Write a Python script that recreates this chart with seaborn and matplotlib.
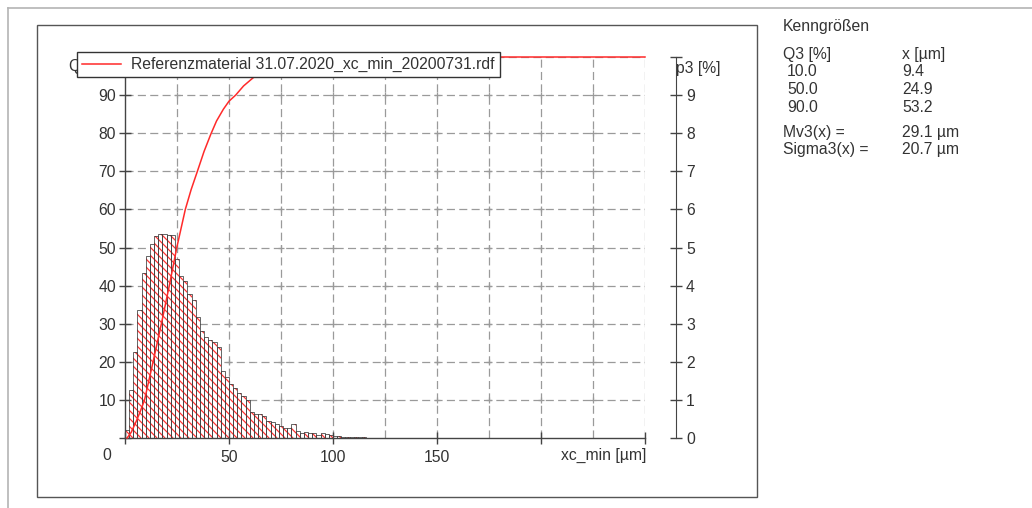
import numpy as np
import pandas as pd
import matplotlib
matplotlib.use("Agg")
import matplotlib.pyplot as plt
from matplotlib.lines import Line2D
from matplotlib.patches import Rectangle
from matplotlib.collections import LineCollection
from matplotlib.path import Path
import seaborn as sns

# ---- data -----------------------------------------------------------------
# density distribution p3 [%] per size class (class width 2 µm, starting at 0 µm)
class_width = 2.0
p3 = [0.22, 1.25, 2.27, 3.36, 4.32, 4.78, 5.10, 5.31, 5.36, 5.36,
      5.34, 5.32, 4.71, 4.24, 4.11, 3.78, 3.63, 3.17, 2.80, 2.65,
      2.58, 2.52, 2.40, 1.75, 1.60, 1.42, 1.32, 1.19, 1.10, 1.00,
      0.68, 0.62, 0.64, 0.57, 0.45, 0.42, 0.36, 0.31, 0.27, 0.27,
      0.36, 0.18, 0.13, 0.15, 0.13, 0.13, 0.08, 0.13, 0.11, 0.08,
      0.04, 0.04, 0.03, 0.03, 0.03, 0.02, 0.03, 0.02, 0.01, 0.01,
      0.01, 0.005, 0.005, 0.005, 0.005, 0.005]

# cumulative distribution Q3 [%] over xc_min [µm]
q3_x = [1.0, 3.0, 5.5, 7.5, 9.4, 13.5, 17.5, 21.3, 24.9, 29.0, 31.8, 34.8,
        38.0, 41.3, 44.0, 47.3, 50.0, 53.2, 57.0, 61.5, 65.0, 70.0, 75.0,
        80.0, 88.0, 95.0, 105.0, 120.0, 250.0]
q3_y = [0.0, 1.5, 4.5, 7.2, 10.0, 20.0, 30.0, 40.0, 50.0, 60.0, 65.2, 70.0,
        75.2, 79.8, 83.2, 86.3, 88.4, 90.0, 92.4, 94.5, 95.8, 97.3, 98.3,
        98.9, 99.45, 99.7, 99.9, 100.0, 100.0]

series_label = "Referenzmaterial 31.07.2020_xc_min_20200731.rdf"

# characteristic values table
stat_title = "Kenngrößen"
q3_levels = ["10.0", "50.0", "90.0"]
x_levels = ["9.4", "24.9", "53.2"]
mv3 = "29.1 µm"
sigma3 = "20.7 µm"

x_ticks = [0, 50, 100, 150, 200, 250]
x_ticklabels = ["", "50", "100", "150", "", ""]
q_ticks = list(range(0, 101, 10))
p_ticks = list(range(0, 11))

# ---- style ----------------------------------------------------------------
plt.rcParams["font.family"] = ["Liberation Sans", "DejaVu Sans"]
plt.rcParams["font.size"] = 11.3
plt.rcParams["lines.scale_dashes"] = False

TXT = "#333333"
AX = "#444444"
GRID = "#9a9a9a"
RED = "#ff2a2a"
HATCH = "#ff3434"
OUTLINE = "#3c3c3c"
FS = 11.3

W, H = 1032, 508
fig = plt.figure(figsize=(W / 100, H / 100), dpi=100)


def fx(px):
    return px / W


def fy(py):
    return 1 - py / H


AX_W, AX_H = 520, 381
ax = fig.add_axes([fx(125), fy(438), AX_W / W, AX_H / H])
ax2 = ax.twinx()
ax.set_zorder(2)
ax2.set_zorder(1)
ax.patch.set_visible(False)
ax2.patch.set_visible(False)

edges = [i * class_width for i in range(len(p3) + 1)]
centers = [(a + b) / 2 for a, b in zip(edges[:-1], edges[1:])]
hist_df = pd.DataFrame({"x": centers, "p3": p3})

# white bar bodies
n0 = len(ax2.patches)
sns.histplot(data=hist_df, x="x", weights="p3", bins=edges, ax=ax2,
             color="white", alpha=1, linewidth=0, zorder=2)
fill_bars = ax2.patches[n0:]
for patch in fill_bars:
    patch.set_facecolor("white")
    patch.set_edgecolor("none")

# red diagonal hatching, clipped to the bar outlines
bar_paths = [p.get_path().transformed(p.get_patch_transform()) for p in fill_bars]
bar_region = Path.make_compound_path(*bar_paths)
step = 8.0 / AX_W
drop = AX_H / AX_W
starts = np.arange(-drop, 1.0, step)
segments = [[(u, 1.0), (u + drop, 0.0)] for u in starts]
hatch = LineCollection(segments, colors=HATCH, linewidths=0.9,
                       transform=ax2.transAxes, zorder=2.5)
ax2.add_collection(hatch, autolim=False)
hatch.set_clip_path(bar_region, ax2.transData)

# bar outlines
sns.histplot(data=hist_df, x="x", weights="p3", bins=edges, ax=ax2,
             fill=False, color=OUTLINE, linewidth=0.55, zorder=3)

# grid (drawn behind the bars)
dash = (0, (5.8, 3.1))
for gx in range(25, 251, 25):
    ax2.axvline(gx, color=GRID, lw=0.9, ls=dash, zorder=0.5)
for gy in range(1, 11):
    ax2.axhline(gy, color=GRID, lw=0.9, ls=dash, zorder=0.5)
cx, cy = np.meshgrid(np.arange(25, 250, 25), np.arange(1, 10))
ax2.plot(cx.ravel(), cy.ravel(), ls="none", marker="+", ms=5, mew=0.9,
         color=GRID, zorder=0.6)

# cumulative curve
sns.lineplot(x=q3_x, y=q3_y, ax=ax, color=RED, lw=1.1, label=series_label,
             clip_on=False, zorder=4)

ax.set_xlim(0, 250)
ax.set_ylim(0, 100)
ax2.set_ylim(0, 10)
ax.set_xlabel("")
ax.set_ylabel("")
ax2.set_xlabel("")
ax2.set_ylabel("")

# left axis / bottom axis
for s in ["top", "right"]:
    ax.spines[s].set_visible(False)
for s in ["left", "bottom"]:
    ax.spines[s].set_color(AX)
    ax.spines[s].set_linewidth(1.0)
ax.set_yticks(q_ticks)
ax.set_yticklabels([str(t) if 0 < t < 100 else "" for t in q_ticks])
ax.set_xticks(x_ticks)
ax.set_xticklabels(x_ticklabels)
ax.tick_params(axis="y", direction="inout", length=8, width=1, color=AX,
               labelcolor=TXT, labelsize=FS, pad=2.5)
ax.tick_params(axis="x", direction="inout", length=8, width=1, color=AX,
               labelcolor=TXT, labelsize=FS, pad=4.5)

# right axis p3
for s in ["top", "left", "bottom"]:
    ax2.spines[s].set_visible(False)
ax2.spines["right"].set_position(("outward", 22))
ax2.spines["right"].set_bounds(0, 10)
ax2.spines["right"].set_color(AX)
ax2.set_yticks(p_ticks)
ax2.set_yticklabels([str(t) if t < 10 else "" for t in p_ticks])
ax2.tick_params(axis="y", direction="inout", length=8, width=1, color=AX,
                labelcolor=TXT, labelsize=FS, pad=3.5)

# axis captions
ax.text(fx(69), fy(66), "Q3 [%]", transform=fig.transFigure, ha="left",
        va="center", color=TXT, fontsize=FS, clip_on=False, zorder=3)
fig.text(fx(676), fy(68), "p3 [%]", ha="left", va="center", color=TXT,
         fontsize=FS)
fig.text(fx(107), fy(455), "0", ha="center", va="center", color=TXT,
         fontsize=FS)
fig.text(fx(646), fy(455), "xc_min [µm]", ha="right", va="center", color=TXT,
         fontsize=FS)

leg = ax.legend(loc="upper left", bbox_to_anchor=(fx(77), fy(52)),
                bbox_transform=fig.transFigure, frameon=True, fancybox=False,
                framealpha=1, edgecolor="#333333", fontsize=FS,
                borderpad=0.32, handlelength=2.5, handletextpad=0.65,
                borderaxespad=0)
leg.get_frame().set_linewidth(1.0)
for t in leg.get_texts():
    t.set_color(TXT)
leg.set_zorder(10)

# chart frame and page borders
fig.add_artist(Rectangle((fx(37), fy(497)), fx(757) - fx(37), fy(25) - fy(497),
                         transform=fig.transFigure, fill=False, ec="#555555",
                         lw=1.0))
fig.add_artist(Line2D([fx(8), 1], [fy(8), fy(8)], transform=fig.transFigure,
                      color="#b4b4b4", lw=1.2))
fig.add_artist(Line2D([fx(8), fx(8)], [0, fy(8)], transform=fig.transFigure,
                      color="#b4b4b4", lw=1.2))

# characteristic values panel
kw = dict(ha="left", va="center", color=TXT, fontsize=FS)
fig.text(fx(783), fy(27), stat_title, **kw)
fig.text(fx(783), fy(55), "Q3 [%]", **kw)
fig.text(fx(902), fy(55), "x [µm]", **kw)
for i, (ql, xl) in enumerate(zip(q3_levels, x_levels)):
    yy = 72 + i * 17.7
    fig.text(fx(787), fy(yy), ql, **kw)
    fig.text(fx(902), fy(yy), xl, **kw)
fig.text(fx(783), fy(133), "Mv3(x) =", **kw)
fig.text(fx(902), fy(133), mv3, **kw)
fig.text(fx(783), fy(150), "Sigma3(x) =", **kw)
fig.text(fx(902), fy(150), sigma3, **kw)

fig.savefig("out.png", dpi=100)
